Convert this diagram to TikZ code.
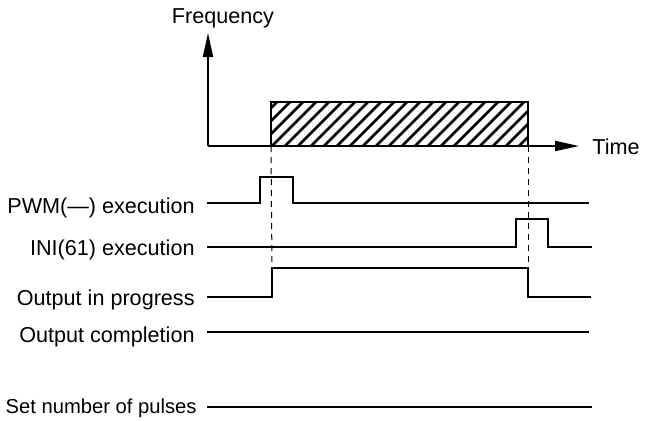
\documentclass[tikz,border=0pt]{standalone}
\usepackage{fontspec}
\setmainfont{Liberation Sans}
\usetikzlibrary{arrows.meta}
\tikzset{
  lbl/.style={anchor=base east, inner sep=0pt, font=\fontsize{10.8}{12}\selectfont},
  axis/.style={line width=1pt, -{Triangle[length=12pt,width=5pt]}},
  sig/.style={line width=1.2pt, line join=miter},
  guide/.style={line width=0.5pt, dash pattern=on 3pt off 2.5pt},
  hatch/.style={line width=1.3pt}
}
\begin{document}
\begin{tikzpicture}[x=0.5pt, y=-0.5pt]
\useasboundingbox (0,0) rectangle (649,420);
% axes
\coordinate (o) at (208,146);
\node[inner sep=0pt, font=\fontsize{10.8}{12}\selectfont, anchor=base] (freq) at (223,23) {Frequency};
\node[inner sep=0pt, font=\fontsize{10.8}{12}\selectfont, anchor=west] (time) at (592,147) {Time};
\coordinate (ytop) at (208,33);
\coordinate (xend) at (579,146);
\draw[axis] (o) -- (ytop);
\draw[axis] (o) -- (xend);
% hatched output band
\coordinate (bandsw) at (271,146);
\coordinate (bandne) at (528,102);
\begin{scope}
  \clip (bandsw) rectangle (bandne);
  \foreach \x in {220,233,...,540}
    \draw[hatch] (\x,146) -- ++(46,-46);
\end{scope}
\draw[line width=1pt] (bandsw) rectangle (bandne);
% signal labels
\node[lbl] (pwm) at (195,213) {PWM(—) execution};
\node[lbl] (ini) at (195,255) {INI(61) execution};
\node[lbl] (prog) at (195,305) {Output in progress};
\node[lbl] (done) at (195,342) {Output completion};
\node[lbl, font=\fontsize{10.1}{12}\selectfont] (pulses) at (197,413) {Set number of pulses};
% signals
\draw[sig] (207,203) -- (260,203) -- (260,177) -- (293,177) -- (293,203) -- (589,203);
\draw[sig] (207,247) -- (516,247) -- (516,219) -- (548,219) -- (548,247) -- (592,247);
\draw[sig] (207,297) -- (272,297) -- (272,268) coordinate (rise) -- (528,268) coordinate (fall) -- (528,297) -- (591,297);
\draw[sig] (207,332) -- (589,332);
\draw[sig] (207,407) -- (592,407);
% guide lines
\draw[guide] (bandsw) -- (rise);
\draw[guide] (528,146) -- (fall);
\end{tikzpicture}
\end{document}
